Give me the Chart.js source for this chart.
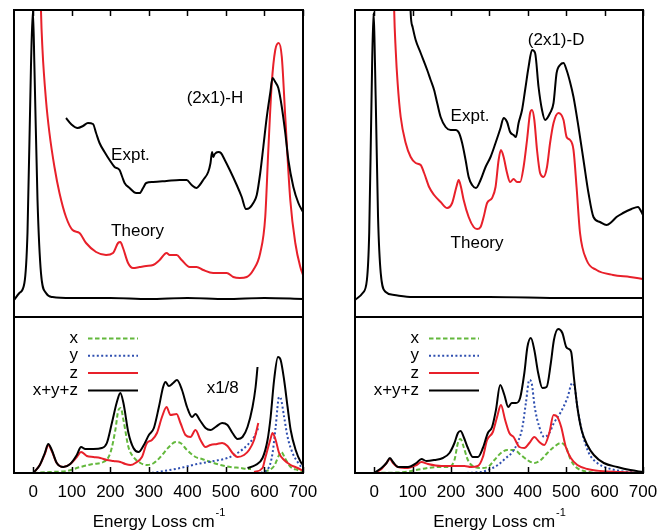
<!DOCTYPE html>
<html>
<head>
<meta charset="utf-8">
<script src="https://cdn.jsdelivr.net/npm/chart.js@4.4.1/dist/chart.umd.min.js"></script>
<style>
  html, body { margin: 0; padding: 0; background: #fff; }
  #wrap { position: relative; width: 672px; height: 531px; overflow: hidden; }
  canvas { position: absolute; }
</style>
</head>
<body>
<div id="wrap">
  <canvas id="topH" width="336" height="325" style="left:0;top:0"></canvas>
  <canvas id="topD" width="336" height="325" style="left:336px;top:0"></canvas>
  <canvas id="botH" width="336" height="221" style="left:0;top:310px"></canvas>
  <canvas id="botD" width="336" height="221" style="left:336px;top:310px"></canvas>
</div>
<script>
// x ticks (energy loss, cm-1)
const tickValues = [0, 100, 200, 300, 400, 500, 600, 700];
const legendLabels = ['x', 'y', 'z', 'x+y+z'];

// (2x1)-H, upper panel: [energy, intensity]
const hElastic = [[-50,17],[-36,24],[-23,34],[-15,84],[-6,250],[-1,307],[3,250],[11,117],[20,44],[33,24],[50,20],[100,19],[200,19],[300,18],[400,19],[500,18],[600,19],[700,18]];
const hTheory = [[15,420],[20,307],[24,267],[33,217],[42,184],[55,150],[68,124],[85,100],[102,87],[120,84],[137,74],[163,65],[189,62],[207,64],[220,74],[226,75],[233,69],[246,54],[259,49],[276,50],[293,51],[311,52],[328,57],[346,64],[354,62],[372,62],[385,57],[406,50],[424,50],[441,47],[467,44],[502,44],[519,40],[536,39],[554,40],[571,47],[589,64],[602,100],[610,167],[619,234],[628,267],[637,274],[645,260],[654,200],[667,117],[680,74],[693,50],[700,42]];
const hExpt = [[85,199],[98,193],[115,189],[129,191],[142,194],[155,193],[163,184],[172,174],[185,165],[198,157],[211,150],[224,147],[231,140],[237,134],[250,129],[267,124],[276,124],[285,129],[293,134],[311,135],[346,136],[380,137],[398,137],[411,132],[424,129],[432,132],[441,137],[454,145],[460,154],[464,165],[467,160],[471,163],[480,165],[487,164],[497,157],[510,147],[528,132],[541,120],[552,108],[561,109],[571,114],[580,122],[589,144],[597,170],[606,200],[615,224],[621,239],[628,235],[636,229],[645,210],[654,184],[662,157],[675,130],[688,114],[700,105]];

// (2x1)-D, upper panel
const dElastic = [[-50,17],[-30,24],[-19,37],[-13,84],[-7,217],[-2,304],[4,217],[10,100],[17,44],[30,25],[52,22],[100,20],[300,20],[500,19],[700,19]];
const dTheory = [[48,400],[52,307],[56,267],[61,234],[69,200],[82,174],[95,160],[108,154],[121,152],[130,144],[143,130],[156,122],[173,115],[190,109],[203,114],[214,130],[220,137],[226,130],[233,117],[246,100],[259,90],[268,88],[277,90],[285,100],[294,114],[307,119],[316,130],[324,157],[330,167],[337,160],[346,144],[354,135],[363,138],[372,135],[380,135],[389,150],[398,177],[406,204],[411,207],[417,197],[424,167],[432,144],[441,140],[450,150],[458,174],[467,194],[480,204],[493,197],[501,180],[510,177],[519,167],[527,130],[536,84],[553,57],[579,47],[622,42],[666,40],[700,38]];
const dExpt = [[93,340],[95,304],[100,290],[108,277],[121,264],[138,247],[147,237],[156,227],[164,214],[173,200],[186,190],[199,187],[212,187],[221,184],[229,174],[238,157],[246,140],[255,132],[265,129],[277,137],[290,150],[303,160],[316,174],[329,189],[337,199],[346,195],[354,185],[363,182],[369,180],[376,194],[385,207],[393,227],[402,250],[411,267],[419,264],[428,230],[437,207],[445,197],[458,204],[467,214],[475,244],[484,252],[493,254],[501,247],[510,235],[519,220],[532,190],[545,157],[558,124],[571,100],[588,95],[605,92],[618,95],[631,100],[648,104],[670,108],[687,110],[696,105],[700,102]];

// (2x1)-H, lower panel (second pieces are the x1/8 part)
const hSum = [[0,0],[17,8],[30,20],[39,29],[48,23],[61,10],[78,6],[96,9],[113,18],[124,26],[135,24],[156,24],[178,25],[191,30],[204,50],[217,71],[226,80],[234,70],[247,40],[260,25],[273,21],[287,28],[300,38],[313,45],[326,66],[337,86],[343,91],[352,87],[363,90],[373,93],[386,83],[399,66],[412,56],[421,59],[432,53],[447,45],[460,43],[473,46],[490,50],[504,48],[517,40],[530,34],[543,36],[556,46],[569,66],[577,86],[582,106]];
const hSum8 = [[556,5],[577,8],[595,15],[608,33],[616,56],[625,93],[635,116],[642,113],[651,93],[660,66],[668,43],[681,23],[694,11],[700,8]];
const hZ = [[0,0],[17,8],[30,19],[39,28],[48,22],[61,10],[78,6],[96,9],[113,16],[124,21],[139,17],[156,16],[174,15],[191,13],[208,12],[226,11],[239,9],[252,8],[265,10],[282,16],[295,30],[308,33],[321,40],[334,56],[346,66],[356,58],[372,59],[382,50],[395,38],[408,36],[421,43],[434,33],[447,26],[460,28],[477,29],[490,30],[504,27],[517,20],[530,16],[547,18],[560,23],[573,33],[584,50]];
const hZ8 = [[573,1],[595,5],[602,15],[615,33],[621,40],[629,33],[638,20],[651,13],[668,8],[686,5],[700,2]];
const hX = [[0,0],[43,1],[87,2],[122,6],[156,9],[182,11],[200,20],[213,43],[221,63],[227,65],[234,53],[247,26],[260,16],[278,10],[295,8],[313,10],[330,16],[352,26],[369,31],[382,30],[399,23],[421,16],[438,14],[460,11],[486,8],[512,6],[538,5],[556,4],[565,4]];
const hX8 = [[600,1],[625,7],[638,18],[644,21],[653,15],[668,6],[686,3],[700,1]];
const hY = [[0,0],[300,0],[339,2],[382,5],[425,9],[469,12],[504,15],[530,20],[556,28],[573,36],[584,45]];
const hY8 = [[590,0],[612,6],[621,20],[629,46],[638,76],[642,75],[651,56],[660,36],[673,20],[686,11],[700,4]];

// (2x1)-D, lower panel
const dSum = [[0,0],[19,5],[32,10],[41,15],[49,11],[62,6],[88,6],[110,10],[123,14],[136,12],[157,13],[179,15],[196,20],[209,30],[218,40],[225,42],[233,36],[244,25],[257,16],[270,16],[283,25],[296,40],[307,46],[317,63],[328,88],[339,78],[349,66],[358,70],[369,70],[380,75],[391,100],[399,126],[408,135],[417,123],[427,100],[438,85],[449,86],[460,110],[468,133],[479,144],[490,140],[500,126],[507,124],[513,121],[520,96],[529,66],[540,43],[555,28],[572,18],[598,10],[633,6],[667,3],[700,1]];
const dZ = [[0,0],[19,4],[32,10],[41,14],[49,10],[62,6],[88,5],[110,8],[123,11],[140,9],[175,7],[209,7],[235,7],[252,6],[270,7],[283,16],[294,33],[309,41],[320,56],[330,68],[341,53],[352,40],[363,36],[378,26],[391,25],[404,30],[417,36],[430,31],[443,28],[456,40],[467,58],[477,56],[487,46],[499,26],[512,15],[529,8],[555,4],[589,2],[641,1],[700,0]];
const dX = [[0,0],[80,1],[123,4],[166,6],[192,6],[209,13],[218,30],[225,34],[233,26],[244,13],[261,6],[278,5],[296,6],[313,13],[330,20],[347,23],[365,23],[382,18],[399,13],[417,10],[434,13],[451,20],[468,26],[486,30],[499,26],[512,13],[525,6],[546,2],[598,0],[700,0]];
const dY = [[0,0],[209,0],[278,1],[296,3],[322,8],[343,15],[360,21],[373,30],[386,46],[395,70],[404,93],[410,90],[418,66],[430,46],[443,36],[456,40],[468,50],[486,61],[503,75],[516,90],[522,86],[529,66],[542,40],[559,20],[581,10],[607,5],[641,2],[700,0]];

const FONT = "'Liberation Sans', Arial, Helvetica, sans-serif";
const RED = '#e8202a', GREEN = '#63b83c', BLUE = '#2f4fb0', BLACK = '#000';
const DASH_X = [4.5, 2.5], DOT_Y = [2, 2.4];

const line = (label, pts, color, dash) => ({
    label: label,
    data: pts.map(p => ({x: p[0], y: p[1]})),
    borderColor: color,
    borderWidth: 2,
    borderDash: dash || [],
    pointRadius: 0,
    fill: false,
    cubicInterpolationMode: 'monotone',
    clip: 1,
});

// box, inner ticks, notes, legend and axis title
const decor = {
    id: 'decor',
    afterDraw(chart) {
        const o = chart.options.plugins.decor;
        const ctx = chart.ctx;
        const a = chart.chartArea;
        const xs = chart.scales.x, ys = chart.scales.y;
        ctx.save();
        ctx.strokeStyle = '#000';
        ctx.lineWidth = 2;
        ctx.setLineDash([]);
        ctx.strokeRect(a.left, a.top, a.right - a.left, a.bottom - a.top);
        ctx.lineWidth = 1.5;
        tickValues.forEach(v => {
            const px = Math.round(xs.getPixelForValue(v)) + 0.5;
            ctx.beginPath();
            if (o.tickSide === 'top') { ctx.moveTo(px, a.top); ctx.lineTo(px, a.top + 6); }
            else { ctx.moveTo(px, a.bottom); ctx.lineTo(px, a.bottom - 6); }
            ctx.stroke();
        });
        ctx.fillStyle = '#000';
        ctx.font = '17px ' + FONT;
        ctx.textBaseline = 'middle';
        ctx.textAlign = 'left';
        (o.notes || []).forEach(n => {
            ctx.fillText(n.text, xs.getPixelForValue(n.x), ys.getPixelForValue(n.y));
        });
        if (o.legend) {
            legendLabels.forEach((lab, i) => {
                const ds = chart.data.datasets.find(d => d.label === lab);
                const ly = a.top + 21.5 + i * 17.3;
                ctx.textAlign = 'right';
                ctx.textBaseline = 'alphabetic';
                ctx.fillStyle = '#000';
                ctx.fillText(lab, a.left + 64, ly + 4.5);
                ctx.strokeStyle = ds.borderColor;
                ctx.lineWidth = 2;
                ctx.setLineDash(ds.borderDash);
                ctx.beginPath();
                ctx.moveTo(a.left + 74, ly);
                ctx.lineTo(a.left + 124, ly);
                ctx.stroke();
            });
            ctx.setLineDash([]);
        }
        if (o.title) {
            const main = 'Energy Loss cm', sup = '-1';
            ctx.font = '17px ' + FONT;
            const w1 = ctx.measureText(main).width;
            ctx.font = '11px ' + FONT;
            const w2 = ctx.measureText(sup).width;
            const x0 = (a.left + a.right) / 2 - (w1 + w2) / 2;
            ctx.textAlign = 'left';
            ctx.textBaseline = 'alphabetic';
            ctx.font = '17px ' + FONT;
            ctx.fillText(main, x0, a.bottom + 54);
            ctx.font = '11px ' + FONT;
            ctx.fillText(sup, x0 + w1 + 1, a.bottom + 43);
        }
        ctx.restore();
    }
};

const makeChart = (id, datasets, yMax, bottom, padding, decorOpts) => new Chart(document.getElementById(id), {
    type: 'line',
    data: {datasets: datasets},
    options: {
        responsive: false,
        animation: false,
        devicePixelRatio: 1,
        layout: {padding: padding},
        scales: {
            x: {
                type: 'linear',
                min: -50,
                max: 700,
                display: bottom,
                afterBuildTicks: s => { s.ticks = tickValues.map(v => ({value: v})); },
                afterFit: s => { if (bottom) s.height = 58; },
                grid: {display: false, drawTicks: false},
                border: {display: false},
                ticks: {color: '#000', font: {family: FONT, size: 17}, padding: 9, maxRotation: 0, autoSkip: false},
            },
            y: {type: 'linear', min: 0, max: yMax, display: false},
        },
        plugins: {
            legend: {display: false},
            tooltip: {enabled: false},
            decor: decorOpts,
        },
    },
    plugins: [decor],
});

makeChart('topH', [
    line('elastic', hElastic, BLACK),
    line('Expt.', hExpt, BLACK),
    line('Theory', hTheory, RED),
], 307, false, {left: 14, right: 33, top: 10, bottom: 8}, {
    tickSide: 'top',
    notes: [{text: '(2x1)-H', x: 398, y: 219}, {text: 'Expt.', x: 202, y: 162}, {text: 'Theory', x: 202, y: 86}],
});

makeChart('topD', [
    line('elastic', dElastic, BLACK),
    line('Expt.', dExpt, BLACK),
    line('Theory', dTheory, RED),
], 307, false, {left: 19, right: 29, top: 10, bottom: 8}, {
    tickSide: 'top',
    notes: [{text: '(2x1)-D', x: 400, y: 277}, {text: 'Expt.', x: 199, y: 201}, {text: 'Theory', x: 199, y: 74}],
});

makeChart('botH', [
    line('x+y+z', hSum, BLACK),
    line('', hSum8, BLACK),
    line('z', hZ, RED),
    line('', hZ8, RED),
    line('y', hY, BLUE, DOT_Y),
    line('', hY8, BLUE, DOT_Y),
    line('x', hX, GREEN, DASH_X),
    line('', hX8, GREEN, DASH_X),
], 156, true, {left: 14, right: 33, top: 7, bottom: 0}, {
    tickSide: 'bottom',
    legend: true,
    title: true,
    notes: [{text: 'x1/8', x: 450, y: 85}],
});

makeChart('botD', [
    line('x+y+z', dSum, BLACK),
    line('z', dZ, RED),
    line('y', dY, BLUE, DOT_Y),
    line('x', dX, GREEN, DASH_X),
], 156, true, {left: 19, right: 29, top: 7, bottom: 0}, {
    tickSide: 'bottom',
    legend: true,
    title: true,
    notes: [],
});
</script>
</body>
</html>
